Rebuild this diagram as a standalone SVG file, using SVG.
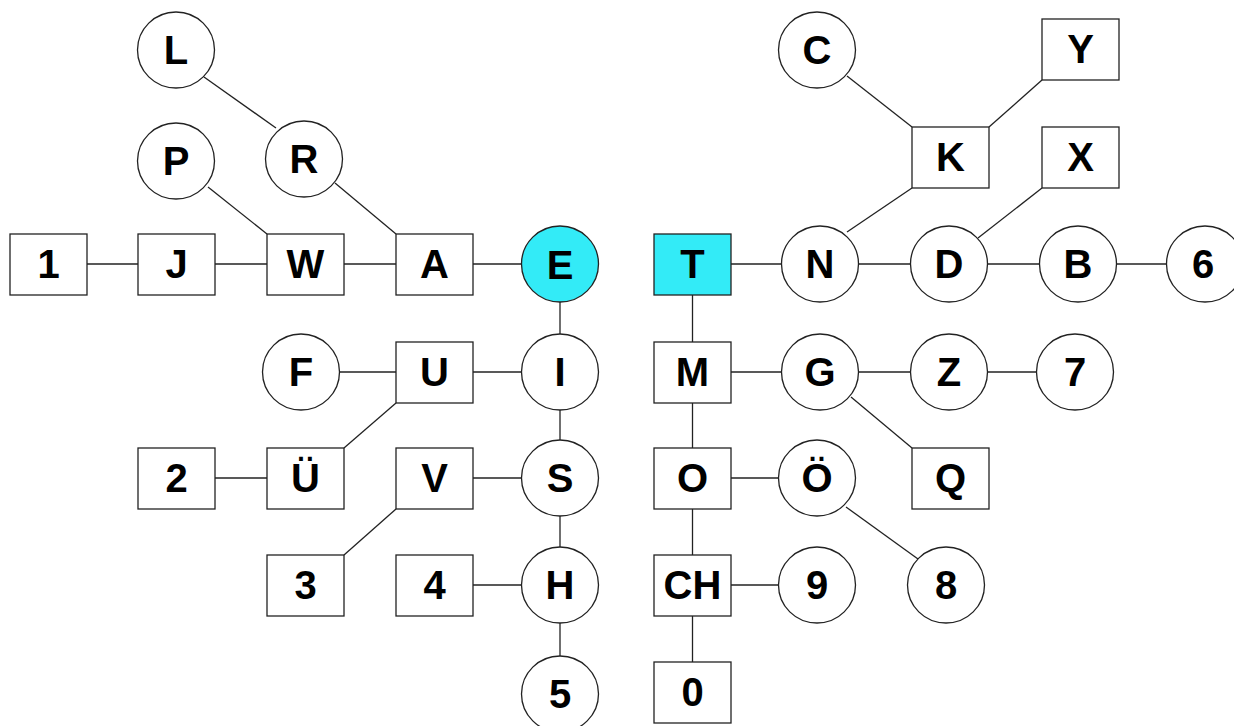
<svg xmlns="http://www.w3.org/2000/svg" width="1234" height="726" viewBox="0 0 1234 726">
<style>
.n{fill:#fff;stroke:#222;stroke-width:1.3}
.hl{fill:#33EBF7}
.t{font-family:"Liberation Sans",Arial,sans-serif;font-weight:bold;font-size:40px;text-anchor:middle;fill:#000}
#connectors line{stroke:#222;stroke-width:1.3}
</style>
<rect width="1234" height="726" fill="#fff"/>
<g id="connectors">
<line x1="87" y1="264" x2="138" y2="264"/>
<line x1="215" y1="264" x2="267" y2="264"/>
<line x1="344" y1="264" x2="396" y2="264"/>
<line x1="473" y1="264" x2="521" y2="264"/>
<line x1="731" y1="264" x2="781" y2="264"/>
<line x1="859" y1="264" x2="910" y2="264"/>
<line x1="988" y1="264" x2="1039" y2="264"/>
<line x1="1117" y1="264" x2="1166" y2="264"/>
<line x1="560" y1="302" x2="560" y2="334"/>
<line x1="560" y1="410" x2="560" y2="440"/>
<line x1="560" y1="516" x2="560" y2="547"/>
<line x1="560" y1="623" x2="560" y2="656"/>
<line x1="340" y1="372" x2="396" y2="372"/>
<line x1="473" y1="372" x2="521" y2="372"/>
<line x1="731" y1="372" x2="781" y2="372"/>
<line x1="859" y1="372" x2="910" y2="372"/>
<line x1="988" y1="372" x2="1036" y2="372"/>
<line x1="215" y1="478" x2="267" y2="478"/>
<line x1="473" y1="478" x2="521" y2="478"/>
<line x1="731" y1="478" x2="778" y2="478"/>
<line x1="473" y1="585" x2="521" y2="585"/>
<line x1="731" y1="585" x2="778" y2="585"/>
<line x1="692.5" y1="295" x2="692.5" y2="342"/>
<line x1="692.5" y1="403" x2="692.5" y2="448"/>
<line x1="692.5" y1="509" x2="692.5" y2="555"/>
<line x1="692.5" y1="616" x2="692.5" y2="662"/>
<line x1="204" y1="77" x2="276" y2="128"/>
<line x1="208" y1="187" x2="267" y2="234"/>
<line x1="335" y1="183" x2="396" y2="234"/>
<line x1="396" y1="403" x2="344" y2="448"/>
<line x1="396" y1="509" x2="344" y2="555"/>
<line x1="847" y1="76" x2="912" y2="127"/>
<line x1="989" y1="127" x2="1042" y2="80"/>
<line x1="912" y1="188" x2="847" y2="232"/>
<line x1="1042" y1="188" x2="978" y2="238"/>
<line x1="851" y1="397" x2="912" y2="448"/>
<line x1="846" y1="507" x2="918" y2="559"/>
</g>
<g id="node-L"><ellipse class="n" cx="176" cy="50" rx="38.5" ry="38"/><text class="t" x="176" y="64">L</text></g>
<g id="node-P"><ellipse class="n" cx="176" cy="161" rx="38.5" ry="38"/><text class="t" x="176" y="175">P</text></g>
<g id="node-R"><ellipse class="n" cx="304" cy="159" rx="38.5" ry="38"/><text class="t" x="304" y="173">R</text></g>
<g id="node-1"><rect class="n" x="10" y="234" width="77" height="61"/><text class="t" x="48.5" y="278">1</text></g>
<g id="node-J"><rect class="n" x="138" y="234" width="77" height="61"/><text class="t" x="176.5" y="278">J</text></g>
<g id="node-W"><rect class="n" x="267" y="234" width="77" height="61"/><text class="t" x="305.5" y="278">W</text></g>
<g id="node-A"><rect class="n" x="396" y="234" width="77" height="61"/><text class="t" x="434.5" y="278">A</text></g>
<g id="node-E"><ellipse class="n hl" cx="560" cy="264" rx="38.5" ry="38"/><text class="t" x="560" y="279">E</text></g>
<g id="node-F"><ellipse class="n" cx="301" cy="372" rx="38.5" ry="38"/><text class="t" x="301" y="386">F</text></g>
<g id="node-U"><rect class="n" x="396" y="342" width="77" height="61"/><text class="t" x="434.5" y="386">U</text></g>
<g id="node-I"><ellipse class="n" cx="560" cy="372" rx="38.5" ry="38"/><text class="t" x="560" y="386">I</text></g>
<g id="node-2"><rect class="n" x="138" y="448" width="77" height="61"/><text class="t" x="176.5" y="492">2</text></g>
<g id="node-UE"><rect class="n" x="267" y="448" width="77" height="61"/><text class="t" x="305.5" y="492">Ü</text></g>
<g id="node-V"><rect class="n" x="396" y="448" width="77" height="61"/><text class="t" x="434.5" y="492">V</text></g>
<g id="node-S"><ellipse class="n" cx="560" cy="478" rx="38.5" ry="38"/><text class="t" x="560" y="492">S</text></g>
<g id="node-3"><rect class="n" x="267" y="555" width="77" height="61"/><text class="t" x="305.5" y="599">3</text></g>
<g id="node-4"><rect class="n" x="396" y="555" width="77" height="61"/><text class="t" x="434.5" y="599">4</text></g>
<g id="node-H"><ellipse class="n" cx="560" cy="585" rx="38.5" ry="38"/><text class="t" x="560" y="599">H</text></g>
<g id="node-5"><ellipse class="n" cx="560" cy="694" rx="38.5" ry="38"/><text class="t" x="560" y="708">5</text></g>
<g id="node-T"><rect class="n hl" x="654" y="234" width="77" height="61"/><text class="t" x="692.5" y="278">T</text></g>
<g id="node-N"><ellipse class="n" cx="820" cy="264" rx="38.5" ry="38"/><text class="t" x="820" y="278">N</text></g>
<g id="node-D"><ellipse class="n" cx="949" cy="264" rx="38.5" ry="38"/><text class="t" x="949" y="278">D</text></g>
<g id="node-B"><ellipse class="n" cx="1078" cy="264" rx="38.5" ry="38"/><text class="t" x="1078" y="278">B</text></g>
<g id="node-6"><ellipse class="n" cx="1205" cy="264" rx="38.5" ry="38"/><text class="t" x="1203" y="278">6</text></g>
<g id="node-C"><ellipse class="n" cx="817" cy="50" rx="38.5" ry="38"/><text class="t" x="817" y="64">C</text></g>
<g id="node-Y"><rect class="n" x="1042" y="19" width="77" height="61"/><text class="t" x="1080.5" y="63">Y</text></g>
<g id="node-K"><rect class="n" x="912" y="127" width="77" height="61"/><text class="t" x="950.5" y="171">K</text></g>
<g id="node-X"><rect class="n" x="1042" y="127" width="77" height="61"/><text class="t" x="1080.5" y="171">X</text></g>
<g id="node-M"><rect class="n" x="654" y="342" width="77" height="61"/><text class="t" x="692.5" y="386">M</text></g>
<g id="node-G"><ellipse class="n" cx="820" cy="372" rx="38.5" ry="38"/><text class="t" x="820" y="386">G</text></g>
<g id="node-Z"><ellipse class="n" cx="949" cy="372" rx="38.5" ry="38"/><text class="t" x="949" y="386">Z</text></g>
<g id="node-7"><ellipse class="n" cx="1075" cy="372" rx="38.5" ry="38"/><text class="t" x="1075" y="386">7</text></g>
<g id="node-O"><rect class="n" x="654" y="448" width="77" height="61"/><text class="t" x="692.5" y="492">O</text></g>
<g id="node-OE"><ellipse class="n" cx="817" cy="478" rx="38.5" ry="38"/><text class="t" x="817" y="492">Ö</text></g>
<g id="node-Q"><rect class="n" x="912" y="448" width="77" height="61"/><text class="t" x="950.5" y="492">Q</text></g>
<g id="node-CH"><rect class="n" x="654" y="555" width="77" height="61"/><text class="t" x="692.5" y="599">CH</text></g>
<g id="node-9"><ellipse class="n" cx="817" cy="585" rx="38.5" ry="38"/><text class="t" x="817" y="599">9</text></g>
<g id="node-8"><ellipse class="n" cx="946" cy="585" rx="38.5" ry="38"/><text class="t" x="946" y="599">8</text></g>
<g id="node-0"><rect class="n" x="654" y="662" width="77" height="61"/><text class="t" x="692.5" y="706">0</text></g>
</svg>
